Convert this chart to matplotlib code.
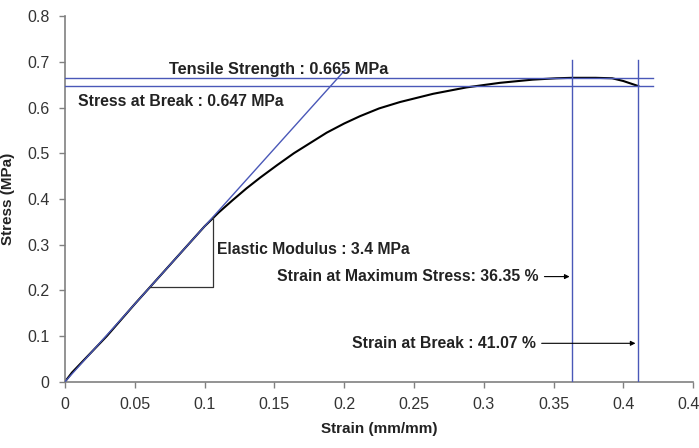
import matplotlib
matplotlib.use("Agg")
import matplotlib.pyplot as plt
import numpy as np

plt.rcParams['font.family'] = ['Liberation Sans', 'DejaVu Sans']

# Stress-strain curve
strain = [0.0, 0.005, 0.01, 0.02, 0.03, 0.05, 0.07, 0.09, 0.10, 0.11, 0.12, 0.13, 0.14,
          0.152, 0.164, 0.176, 0.1875, 0.20, 0.2113, 0.225, 0.24, 0.2637, 0.2876, 0.3115,
          0.335, 0.352, 0.3635, 0.38, 0.392, 0.40, 0.4107]
stress = [0.0, 0.02, 0.036, 0.068, 0.10, 0.17, 0.238, 0.306, 0.340, 0.370, 0.397, 0.423, 0.447,
          0.474, 0.500, 0.523, 0.545, 0.565, 0.581, 0.598, 0.612, 0.630, 0.644, 0.654,
          0.661, 0.664, 0.665, 0.665, 0.664, 0.658, 0.647]

modulus = 3.4
tensile_strength = 0.665
stress_at_break = 0.647
strain_max_stress = 0.3635
strain_break = 0.4107

x_ticks = [0, 0.05, 0.1, 0.15, 0.2, 0.25, 0.3, 0.35, 0.4, 0.45]
x_tick_labels = ['0', '0.05', '0.1', '0.15', '0.2', '0.25', '0.3', '0.35', '0.4', '0.45']
y_ticks = [0, 0.1, 0.2, 0.3, 0.4, 0.5, 0.6, 0.7, 0.8]
y_tick_labels = ['0', '0.1', '0.2', '0.3', '0.4', '0.5', '0.6', '0.7', '0.8']

blue = '#4a58b8'
txt = '#222222'

fig = plt.figure(figsize=(6.99, 4.48), dpi=100)
ax = fig.add_axes([0.093, 0.148, 0.8986, 0.816])

ax.plot(strain, stress, color='black', lw=1.5, zorder=2, solid_joinstyle='round')

# tangent line for modulus
tx = np.array([0.0, 0.2006])
ax.plot(tx, modulus * tx, color=blue, lw=1.0, zorder=3)

# slope triangle
x1, x2 = 0.0609, 0.1058
ax.plot([x1, x2, x2], [modulus * x1, modulus * x1, modulus * x2], color='#333333', lw=0.9, zorder=3)

# horizontal lines
ax.plot([0, 0.4215], [tensile_strength, tensile_strength], color=blue, lw=1.0, zorder=3)
ax.plot([0, 0.4215], [stress_at_break, stress_at_break], color=blue, lw=1.0, zorder=3)
# vertical lines
ax.plot([strain_max_stress, strain_max_stress], [0, 0.704], color=blue, lw=1.0, zorder=3)
ax.plot([strain_break, strain_break], [0, 0.704], color=blue, lw=1.0, zorder=3)

fs = 11.3
ax.text(0.0743, 0.674, 'Tensile Strength : 0.665 MPa', fontsize=11.7, fontweight='bold', color=txt, va='baseline')
ax.text(0.0095, 0.614, 'Stress at Break : 0.647 MPa', fontsize=fs, fontweight='bold', color=txt, va='center')
ax.text(0.1090, 0.289, 'Elastic Modulus : 3.4 MPa', fontsize=fs, fontweight='bold', color=txt, va='center')
ax.annotate('Strain at Maximum Stress: 36.35 %', xy=(strain_max_stress - 0.002, 0.230),
            xytext=(0.3395, 0.230), fontsize=fs, fontweight='bold', color=txt,
            ha='right', va='center',
            arrowprops=dict(arrowstyle='-|>', color='black', lw=0.8, mutation_scale=7,
                            shrinkA=2, shrinkB=0))
ax.annotate('Strain at Break : 41.07 %', xy=(strain_break - 0.002, 0.084),
            xytext=(0.3375, 0.084), fontsize=fs, fontweight='bold', color=txt,
            ha='right', va='center',
            arrowprops=dict(arrowstyle='-|>', color='black', lw=0.8, mutation_scale=7,
                            shrinkA=2, shrinkB=0))

ax.set_xlim(0, 0.45)
ax.set_ylim(0, 0.8)
ax.set_xticks(x_ticks)
ax.set_xticklabels(x_tick_labels)
ax.set_yticks(y_ticks)
ax.set_yticklabels(y_tick_labels)
ax.spines['top'].set_visible(False)
ax.spines['right'].set_visible(False)
for s in ['left', 'bottom']:
    ax.spines[s].set_color('#808080')
    ax.spines[s].set_linewidth(1.2)
ax.tick_params(direction='out', length=4, width=1.0, color='#808080', labelsize=11.5,
               labelcolor='#333333', pad=7)
ax.set_xlabel('Strain (mm/mm)', fontsize=11, fontweight='bold', color=txt, labelpad=7)
ax.set_ylabel('Stress (MPa)', fontsize=11, fontweight='bold', color=txt, labelpad=9)

fig.savefig('out.png', dpi=100)
